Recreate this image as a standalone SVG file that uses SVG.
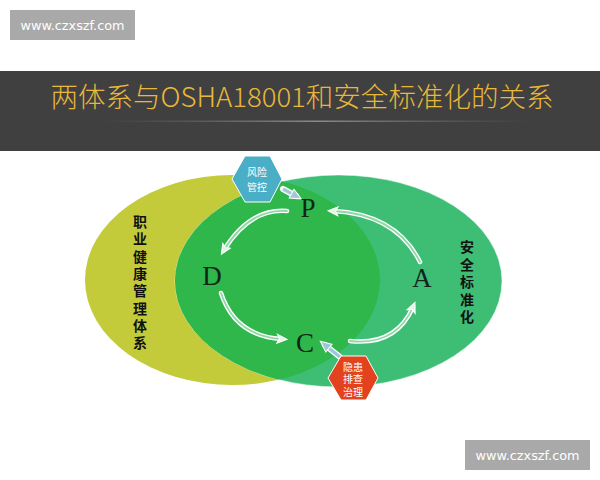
<svg xmlns="http://www.w3.org/2000/svg" width="600" height="480" viewBox="0 0 600 480">
<style>
.wm{fill:#a9a9a9}
.wmt{fill:#fff;font-family:"DejaVu Sans",sans-serif;font-size:12px;text-anchor:middle}
.cjk{font-family:"Noto Sans CJK SC",sans-serif}
.lbl{font-family:"Noto Sans CJK SC",sans-serif;font-size:14px;font-weight:700;fill:#111;text-anchor:middle}
.hx{font-family:"Noto Sans CJK SC",sans-serif;font-size:10px;fill:#fff;text-anchor:middle}
.ltr{font-family:"Liberation Serif",serif;font-size:27px;fill:#14241a;text-anchor:middle}
.aw{fill:none;stroke:#ffffff;stroke-width:4.5;stroke-linecap:round}
.ai{fill:none;stroke:#8fd7a8;stroke-width:1.8;stroke-linecap:round}
</style>
<defs>
<linearGradient id="ln" x1="0" x2="1" y1="0" y2="0">
<stop offset="0" stop-color="#6a6a6a" stop-opacity="0"/>
<stop offset="0.5" stop-color="#8a8a8a"/>
<stop offset="1" stop-color="#6a6a6a" stop-opacity="0"/>
</linearGradient>
<clipPath id="yc"><ellipse cx="232.5" cy="280" rx="147.5" ry="105"/></clipPath>
<marker id="ah" markerUnits="userSpaceOnUse" markerWidth="14" markerHeight="14" refX="6" refY="6" orient="auto">
<path d="M1,1.5 L11,6 L1,10.5 L3.5,6 z" fill="#dff5e6" stroke="#ffffff" stroke-width="1"/>
</marker>
<marker id="bh" markerUnits="userSpaceOnUse" markerWidth="14" markerHeight="14" refX="6" refY="6" orient="auto">
<path d="M1,1 L12,6 L1,11 z" fill="#9ec8d8" stroke="#ffffff" stroke-width="1"/>
</marker>
</defs>
<rect width="600" height="480" fill="#ffffff"/>
<g id="watermark-top"><rect class="wm" x="10" y="10" width="125" height="30"/><text class="wmt" x="72.5" y="30" textLength="104" lengthAdjust="spacingAndGlyphs">www.czxszf.com</text></g>
<g id="title-band">
<rect x="0" y="71" width="600" height="80" fill="#404040"/>
<text x="302" y="107" class="cjk" font-size="27" font-weight="300" fill="#e9b83a" text-anchor="middle" textLength="503" lengthAdjust="spacingAndGlyphs">两体系与OSHA18001和安全标准化的关系</text>
<rect x="100" y="120.5" width="435" height="1.5" fill="url(#ln)"/>
</g>
<g id="ohs-ellipse"><ellipse cx="232.5" cy="280" rx="147.5" ry="105" fill="#c4cb3b"/></g>
<g id="safety-ellipse"><ellipse cx="338.5" cy="281" rx="163.5" ry="106" fill="#3ebe75" stroke="#ffffff" stroke-opacity="0.5" stroke-width="1"/></g>
<g id="overlap"><ellipse cx="338.5" cy="281" rx="163.5" ry="106" fill="#2fb74c" clip-path="url(#yc)"/></g>
<g id="connectors">
<path class="aw" d="M287,211 Q250,208 224,250"/><path class="ai" d="M287,211 Q250,208 224,250" marker-end="url(#ah)"/>
<path class="aw" d="M221,293 Q235,336 282,339"/><path class="ai" d="M221,293 Q235,336 282,339" marker-end="url(#ah)"/>
<path class="aw" d="M350,341 Q396,346 413,307"/><path class="ai" d="M350,341 Q396,346 413,307" marker-end="url(#ah)"/>
<path class="aw" d="M420,262 Q396,214 333,211"/><path class="ai" d="M420,262 Q396,214 333,211" marker-end="url(#ah)"/>
<path d="M283,189 L296,196" stroke="#ffffff" stroke-width="6" stroke-linecap="round"/><path d="M283,189 L296,196" stroke="#9ec8d8" stroke-width="3.5" marker-end="url(#bh)"/>
<path d="M340,357 L325,345" stroke="#ffffff" stroke-width="6" stroke-linecap="round"/><path d="M340,357 L325,345" stroke="#9ec8d8" stroke-width="3.5" marker-end="url(#bh)"/>
</g>
<g id="node-P"><text class="ltr" x="308" y="217">P</text></g>
<g id="node-D"><text class="ltr" x="212" y="285">D</text></g>
<g id="node-C"><text class="ltr" x="305" y="352">C</text></g>
<g id="node-A"><text class="ltr" x="422" y="287">A</text></g>
<g id="node-risk"><polygon points="232,179 245,156 270,156 282,179 270,202 245,202" fill="#4aaec6" stroke="#ffffff" stroke-width="1"/>
<text class="hx" x="257" y="176">风险</text><text class="hx" x="257" y="191">管控</text></g>
<g id="node-hazard"><polygon points="328,378 341,356 366,356 378,378 366,400 341,400" fill="#e2431e" stroke="#ffffff" stroke-width="1"/>
<text class="hx" x="353" y="370.5">隐患</text><text class="hx" x="353" y="383">排查</text><text class="hx" x="353" y="395.5">治理</text></g>
<g id="label-ohs"><text class="lbl">
<tspan x="140" y="227">职</tspan><tspan x="140" y="244.3">业</tspan><tspan x="140" y="261.6">健</tspan><tspan x="140" y="278.9">康</tspan><tspan x="140" y="296.2">管</tspan><tspan x="140" y="313.5">理</tspan><tspan x="140" y="330.8">体</tspan><tspan x="140" y="348.1">系</tspan></text></g>
<g id="label-std"><text class="lbl">
<tspan x="467" y="252">安</tspan><tspan x="467" y="269.5">全</tspan><tspan x="467" y="287">标</tspan><tspan x="467" y="304.5">准</tspan><tspan x="467" y="322">化</tspan></text></g>
<g id="watermark-bottom"><rect class="wm" x="465" y="440" width="125" height="30"/><text class="wmt" x="527.5" y="460" textLength="104" lengthAdjust="spacingAndGlyphs">www.czxszf.com</text></g>
</svg>
